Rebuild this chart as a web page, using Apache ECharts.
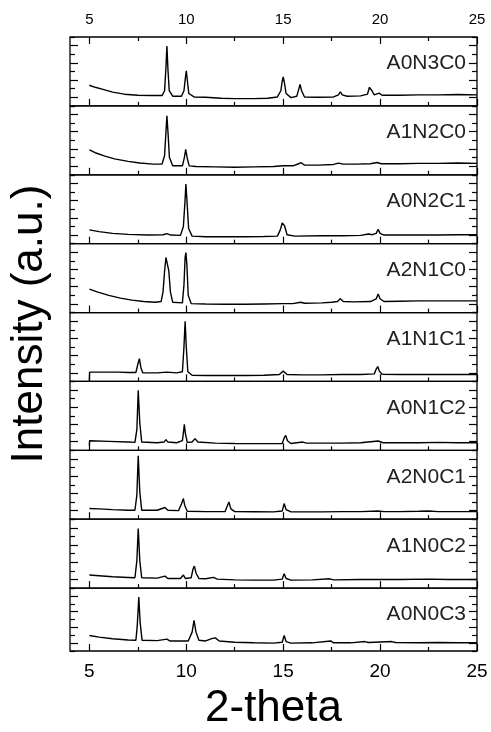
<!DOCTYPE html>
<html>
<head>
	<meta charset="utf-8">
	<title>XRD stacked patterns</title>
	<style>
		html, body { margin: 0; padding: 0; background: #fff; }
	</style>
</head>
<body>
<script type="text/javascript" src="https://cdn.jsdelivr.net/npm/echarts@6/dist/echarts.min.js"></script>
<div id="container" style="width: 491px;height: 732px;"></div>
<script type="text/javascript">
	// sample names, top to bottom
	var samples = ['A0N3C0', 'A1N2C0', 'A0N2C1', 'A2N1C0', 'A1N1C1', 'A0N1C2', 'A2N0C1', 'A1N0C2', 'A0N0C3'];
	// x tick labels
	var majorTicks = [5, 10, 15, 20, 25];
	var minorTicks = [7.5, 12.5, 17.5, 22.5];

	// [2-theta, intensity as % of panel height]
	var pA0N3C0 = [[5,30],[5.3,27],[5.7,24],[6.2,20],[6.8,17],[7.5,15.5],[8.2,15],[8.75,15],[8.88,22],[8.95,55],[9.0,87],[9.05,55],[9.12,22],[9.3,14],[9.75,14],[9.88,22],[9.95,40],[10.0,51],[10.05,38],[10.13,18],[10.4,13],[11,12.5],[11.8,11],[12.5,10.5],[13.5,10.5],[14.2,11],[14.7,13],[14.88,22],[14.95,36],[15.0,42],[15.06,34],[15.15,18],[15.4,12],[15.7,14],[15.8,24],[15.87,31],[15.95,22],[16.1,13],[16.8,12.5],[17.6,13],[17.85,16],[17.95,20.5],[18.05,16],[18.3,14],[19,14.5],[19.35,17],[19.45,27],[19.5,29],[19.58,22],[19.7,16],[19.95,18.5],[20.1,15.5],[21,15.5],[22,16],[23,16],[24,16.5],[25,16]];
	var pA1N2C0 = [[5,36],[5.3,32],[5.8,27],[6.3,23],[7,19.5],[7.6,17],[8.3,15.5],[8.75,15.5],[8.88,28],[8.95,62],[9.0,85.5],[9.06,60],[9.13,25],[9.3,13],[9.8,13],[9.9,25],[9.97,37],[10.05,24],[10.15,13],[10.5,12],[11.5,11.5],[12.5,11],[13.5,11.5],[14.5,12],[15,13],[15.5,13],[15.8,16],[15.93,17.5],[16.1,14],[16.8,14],[17.6,15],[17.85,17],[17.95,19.3],[18.1,15.5],[18.8,15.5],[19.5,16],[19.85,17.8],[20.05,16],[21,16],[22,16.5],[23,16.5],[24,17],[25,16.5]];
	var pA0N2C1 = [[5,20],[5.5,17.5],[6.2,15],[7,13.5],[8,12.5],[8.8,13],[9.0,14.5],[9.2,12.5],[9.7,12],[9.85,25],[9.93,60],[9.98,86.5],[10.04,60],[10.12,22],[10.3,11],[11,10],[12,10],[13,10],[14,10.5],[14.7,11],[14.85,20],[14.95,30],[15.0,32.5],[15.07,26],[15.2,13],[15.6,11],[17,11.5],[18,11.5],[19,12],[19.4,14],[19.5,16],[19.6,13],[19.8,15],[19.9,20.7],[20,15],[20.2,12.5],[21,12.5],[22,12.5],[23,12.5],[24,13],[25,13]];
	var pA2N1C0 = [[5,34],[5.4,30],[6,25],[6.6,21],[7.2,18],[7.8,16],[8.4,15],[8.7,16],[8.8,30],[8.88,60],[8.95,80],[9.02,81],[9.1,60],[9.18,30],[9.3,15],[9.8,14],[9.88,40],[9.94,80],[9.98,87],[10.03,70],[10.1,25],[10.25,13],[11,12.5],[12,12],[13,12],[14,12.5],[15,13],[15.5,13],[15.9,15],[16.1,13.5],[17,14],[17.5,15],[17.8,16],[17.95,20],[18.1,16],[18.6,15.5],[19.5,16],[19.8,20],[19.9,27],[20,20],[20.2,16],[21,16.5],[22,17],[23,17],[24,17],[25,17]];
	var pA1N1C1 = [[5,1],[5.01,13.5],[6,13.5],[6.5,13.5],[7,13],[7.4,13],[7.5,25],[7.58,33],[7.66,20],[7.75,12.5],[8.5,12.5],[9.0,13.5],[9.5,12.5],[9.8,14],[9.88,50],[9.94,87.4],[10.0,50],[10.08,14],[10.3,9],[11,8.7],[12,8.7],[13,8.7],[14,9],[14.8,10],[15.0,15],[15.2,10],[16,9.5],[17,9.5],[18,10],[19,10],[19.7,11],[19.8,18],[19.88,21.7],[19.96,15],[20.1,10.5],[21,10],[22,10],[23,10],[24,10],[25,10]];
	var pA0N1C2 = [[5,7],[5.01,14],[6,13],[7,12],[7.35,11.5],[7.45,30],[7.52,87],[7.6,40],[7.7,12],[8.5,11],[8.85,12],[8.95,15.5],[9.05,12],[9.5,11],[9.8,14],[9.87,30],[9.9,37.7],[9.95,25],[10.05,11.5],[10.3,12],[10.45,17],[10.6,12],[11.5,10.5],[12.5,10],[13.5,9.7],[14.5,9.7],[14.95,10],[15.05,18],[15.13,21.7],[15.22,14],[15.4,10],[16,12],[16.2,10.5],[17,10.5],[18,10.5],[19,11],[19.9,13.5],[20,14],[20.15,11],[21,11],[22,11],[23,11.5],[24,11],[25,11]];
	var pA2N0C1 = [[5,15.5],[5.5,15],[6.2,14],[7,13],[7.35,13],[7.45,35],[7.52,92],[7.6,40],[7.7,13],[8.5,13],[8.9,17],[9.05,13],[9.6,12.5],[9.75,22],[9.85,30],[9.92,20],[10.05,11.5],[11,11],[12,11],[12.1,18],[12.2,25],[12.3,15],[12.5,11],[13.5,10.8],[14.5,10.6],[14.95,12],[15.05,22.7],[15.15,14],[15.4,10.6],[17,10.6],[18,11],[19,11],[19.9,12],[20,13],[20.2,11],[21,11],[22,11.5],[22.5,12],[23,11],[24,11],[25,11]];
	var pA1N0C2 = [[5,19],[5.5,18],[6.2,16.5],[7,15.5],[7.35,15],[7.45,40],[7.52,86.5],[7.6,40],[7.7,15],[8.5,14.5],[8.9,17.4],[9.05,14],[9.7,14],[9.85,19],[9.95,14],[10.25,15],[10.35,28],[10.42,32],[10.5,22],[10.65,14],[11,13.5],[11.4,15.5],[11.6,13],[12.5,12],[13.5,11.6],[14.5,11.6],[14.95,13],[15.05,21],[15.15,14],[15.4,11.6],[16.5,12],[17.4,13.5],[17.6,12],[19,12.5],[20,12.5],[21,12.5],[22.5,13],[23.5,12.5],[25,12.5]];
	var pA0N0C3 = [[5,24.6],[5.5,22],[6.2,19.5],[7,17.5],[7.4,17],[7.47,40],[7.55,86],[7.62,45],[7.72,17],[8.5,16.5],[9.0,18.8],[9.15,16],[10.1,16],[10.3,30],[10.4,48.8],[10.5,30],[10.65,17],[11,16],[11.35,20],[11.5,20.8],[11.7,16],[12.5,14],[13.5,13],[14.5,12.6],[14.95,14],[15.05,24.6],[15.15,15],[15.4,12.6],[16.5,13],[17.45,16],[17.6,13],[18.5,13],[19.2,15],[19.4,13.5],[20.6,15],[20.8,13.5],[22,13],[23,13.5],[24,13],[25,13]];

	var patterns = [pA0N3C0, pA1N2C0, pA0N2C1, pA2N1C0, pA1N1C1, pA0N1C2, pA2N0C1, pA1N0C2, pA0N0C3];

	(function () {
		var FONT = 'Liberation Sans, Arial, sans-serif';
		var plotTop = 37, plotBottom = 657, plotLeft = 70, plotRight = 14;
		var panelH = (plotBottom - plotTop) / samples.length;
		var tickStyle = { color: '#000', width: 1.2 };

		var grids = [], xAxes = [], yAxes = [], series = [], titles = [];
		for (var i = 0; i < samples.length; i++) {
			var panelTop = plotTop + i * panelH;
			grids.push({ left: plotLeft, right: plotRight, top: panelTop, height: panelH,
				show: true, borderColor: '#000', borderWidth: 1.3, backgroundColor: 'transparent' });
			var last = (i === samples.length - 1);
			// major x ticks (+ labels on the last panel)
			xAxes.push({
				gridIndex: i, type: 'value', position: 'bottom', min: 4, max: 25,
				axisLine: { show: false, onZero: false },
				axisTick: { show: true, inside: true, length: 7, customValues: majorTicks, lineStyle: tickStyle },
				axisLabel: { show: last, customValues: majorTicks, fontSize: 19, color: '#000', fontFamily: FONT, margin: 11 },
				splitLine: { show: false },
				name: last ? '2-theta' : '', nameLocation: 'middle', nameGap: 36,
				nameTextStyle: { fontSize: 44, color: '#000', fontFamily: FONT }
			});
			// minor x ticks
			xAxes.push({
				gridIndex: i, type: 'value', position: 'bottom', min: 4, max: 25,
				axisLine: { show: false, onZero: false },
				axisTick: { show: true, inside: true, length: 4, customValues: minorTicks, lineStyle: tickStyle },
				axisLabel: { show: false }, splitLine: { show: false }
			});
			// left and right y axes
			['left', 'right'].forEach(function (pos) {
				yAxes.push({
					gridIndex: i, type: 'value', position: pos, min: 0, max: 100, interval: 25,
					axisLine: { show: false, onZero: false },
					axisTick: { show: true, inside: true, length: 5, lineStyle: tickStyle },
					minorTick: { show: true, splitNumber: 2, length: 8, lineStyle: tickStyle },
					axisLabel: { show: false }, splitLine: { show: false }
				});
			});
			series.push({
				type: 'line', name: samples[i], xAxisIndex: 2 * i, yAxisIndex: 2 * i,
				data: patterns[i], symbol: 'none', silent: true,
				lineStyle: { color: '#000', width: 1.4 }
			});
			titles.push({
				text: samples[i], right: 25, top: panelTop + 16, padding: 0,
				textStyle: { fontSize: 21, fontWeight: 'normal', color: '#222', fontFamily: FONT }
			});
		}
		// top axis of the first panel
		xAxes.push({
			gridIndex: 0, type: 'value', position: 'top', min: 4, max: 25,
			axisLine: { show: false, onZero: false },
			axisTick: { show: true, inside: true, length: 7, customValues: majorTicks, lineStyle: tickStyle },
			axisLabel: { show: true, customValues: majorTicks, fontSize: 15, color: '#000', fontFamily: FONT, margin: 10 },
			splitLine: { show: false }
		});
		xAxes.push({
			gridIndex: 0, type: 'value', position: 'top', min: 4, max: 25,
			axisLine: { show: false, onZero: false },
			axisTick: { show: true, inside: true, length: 4, customValues: minorTicks, lineStyle: tickStyle },
			axisLabel: { show: false }, splitLine: { show: false }
		});
		// full-height grid only for the y title
		grids.push({ left: plotLeft, right: plotRight, top: plotTop, height: 574, show: false });
		xAxes.push({ gridIndex: samples.length, type: 'value', min: 0, max: 1, show: false });
		yAxes.push({
			gridIndex: samples.length, type: 'value', position: 'left', min: 0, max: 1,
			axisLine: { show: false }, axisTick: { show: false }, axisLabel: { show: false }, splitLine: { show: false },
			name: 'Intensity (a.u.)', nameLocation: 'middle', nameRotate: 90, nameGap: 18,
			nameTextStyle: { fontSize: 44, color: '#000', fontFamily: FONT }
		});

		var myChart = echarts.init(document.getElementById('container'));
		var option = {
			animation: false,
			backgroundColor: '#fff',
			title: titles,
			grid: grids,
			xAxis: xAxes,
			yAxis: yAxes,
			series: series
		};
		myChart.setOption(option);
		window.addEventListener('resize', myChart.resize);
	})();
</script>
</body>
</html>
